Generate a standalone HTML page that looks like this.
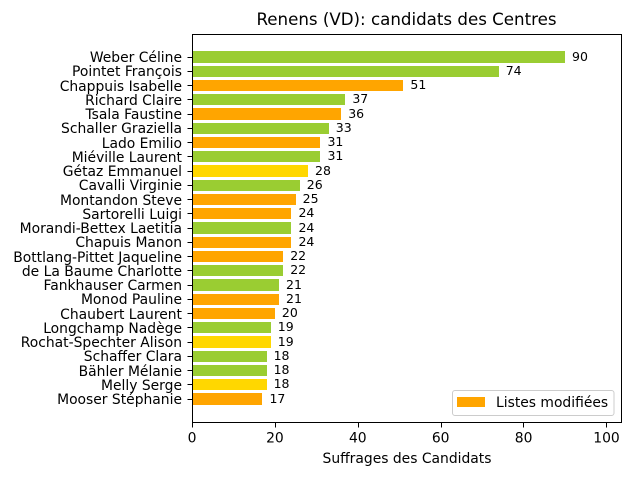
<!DOCTYPE html>
<html>
<head>
<meta charset="utf-8">
<style>
html,body{margin:0;padding:0;background:#fff}
svg{display:block}
text{font-family:"DejaVu Sans",sans-serif;fill:#000}
</style>
</head>
<body>
<svg id="chart" xmlns="http://www.w3.org/2000/svg" width="640" height="480" viewBox="0 0 640 480"></svg>
<script>
const categories = ["Weber Céline","Pointet François","Chappuis Isabelle","Richard Claire","Tsala Faustine","Schaller Graziella","Lado Emilio","Miéville Laurent","Gétaz Emmanuel","Cavalli Virginie","Montandon Steve","Sartorelli Luigi","Morandi-Bettex Laetitia","Chapuis Manon","Bottlang-Pittet Jaqueline","de La Baume Charlotte","Fankhauser Carmen","Monod Pauline","Chaubert Laurent","Longchamp Nadège","Rochat-Spechter Alison","Schaffer Clara","Bähler Mélanie","Melly Serge","Mooser Stéphanie"];
const values = [90,74,51,37,36,33,31,31,28,26,25,24,24,24,22,22,21,21,20,19,19,18,18,18,17];
const barColors = ["yellowgreen","yellowgreen","orange","yellowgreen","orange","yellowgreen","orange","yellowgreen","gold","yellowgreen","orange","orange","yellowgreen","orange","orange","yellowgreen","yellowgreen","orange","orange","yellowgreen","gold","yellowgreen","yellowgreen","gold","orange"];
const xTicks = [0,20,40,60,80,100];

const svg = document.getElementById('chart');
const NS = 'http://www.w3.org/2000/svg';
const plot = {left:192.5, right:621.5, top:34.5, bottom:422.5};
function xScale(v){ return 192 + v * 4.145; }
function yScale(i){ return 57 + i * 14.25; }
const barHeight = 11.4;

function make(tag, attrs, txt){
  const el = document.createElementNS(NS, tag);
  for (const k in attrs) el.setAttribute(k, attrs[k]);
  if (txt !== undefined) el.textContent = txt;
  svg.appendChild(el);
  return el;
}

const titleEl = make('text',{x:406.5,y:25,'text-anchor':'middle','font-size':'16.67px'},'Renens (VD): candidats des Centres');



categories.forEach((name,i)=>{
  const y = yScale(i);
  const top = Math.round(y-barHeight/2);
  const bottom = Math.round(y+barHeight/2);
  const bar = make('rect',{x:192,y:top,width:Math.round(xScale(values[i]))-192,height:bottom-top,fill:barColors[i]});
  
  

  const tickY = Math.floor(y)+0.5;
  const tick = make('line',{x1:plot.left-5,x2:plot.left,y1:tickY,y2:tickY,stroke:'#000','stroke-width':1});
  
  

  const label = make('text',{x:plot.left-10.5,y:Math.round(y+5),'text-anchor':'end','font-size':'13.89px'},name);
  
  

  const val = make('text',{x:xScale(values[i])+7,y:Math.round(y+3.6),'font-size':'12.5px'},String(values[i]));
  
  
});

xTicks.forEach(t=>{
  const x = xScale(t);
  const tickX = Math.floor(x+0.3)+0.5;
  const tick = make('line',{x1:tickX,x2:tickX,y1:plot.bottom,y2:plot.bottom+5,stroke:'#000','stroke-width':1});
  
  

  const label = make('text',{x:x,y:plot.bottom+20,'text-anchor':'middle','font-size':'13.89px'},String(t));
  
  
});

const frame = make('rect',{x:plot.left,y:plot.top,width:plot.right-plot.left,height:plot.bottom-plot.top,fill:'none',stroke:'#000','stroke-width':1});



const xTitle = make('text',{x:407,y:463,'text-anchor':'middle','font-size':'13.89px'},'Suffrages des Candidats');



const legendBox = make('rect',{x:452.5,y:390.5,width:161.5,height:25,rx:2.5,fill:'#fff','fill-opacity':0.8,stroke:'#ccc','stroke-width':1});



const legendSwatch = make('rect',{x:457,y:397,width:28,height:10,fill:'orange'});



const legendText = make('text',{x:496,y:407,'font-size':'13.89px'},'Listes modifiées');


</script>
</body>
</html>
